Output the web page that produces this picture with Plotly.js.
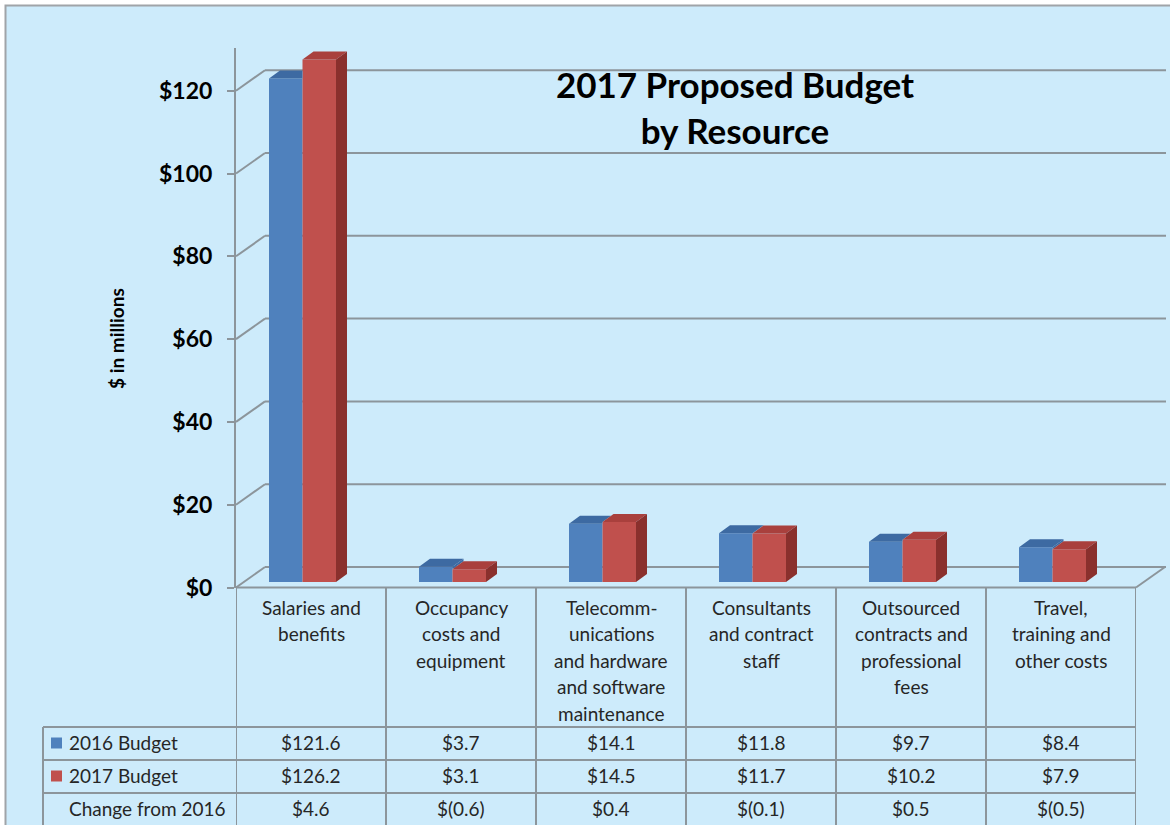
<!DOCTYPE html>
<html>
<head>
<meta charset="utf-8">
<script src="https://cdn.plot.ly/plotly-3.0.1.min.js"></script>
<style>
  html, body { margin: 0; padding: 0; background: #ffffff; }
  #chart { width: 1170px; height: 825px; }
</style>
</head>
<body>
<div id="chart"></div>
<script>
// ---------------- data ----------------
const categories = [
  'Salaries and<br>benefits',
  'Occupancy<br>costs and<br>equipment',
  'Telecomm-<br>unications<br>and hardware<br>and software<br>maintenance',
  'Consultants<br>and contract<br>staff',
  'Outsourced<br>contracts and<br>professional<br>fees',
  'Travel,<br>training and<br>other costs'
];
const seriesNames = ['2016 Budget', '2017 Budget'];
const budget2016 = [121.6, 3.7, 14.1, 11.8, 9.7, 8.4];
const budget2017 = [126.2, 3.1, 14.5, 11.7, 10.2, 7.9];
const changeLabel = 'Change from 2016';
const changeFrom2016 = [4.6, -0.6, 0.4, -0.1, 0.5, -0.5];
const yTickValues = [0, 20, 40, 60, 80, 100, 120];
const yTickLabels = ['$0', '$20', '$40', '$60', '$80', '$100', '$120'];
const chartTitle = '2017 Proposed Budget<br>by Resource';
const yTitle = '$ in millions';

// ---------------- style / geometry ----------------
const W_PX = 1170, H_PX = 825;
const BG = '#cdebfb';
const GRID = '#8c959b';
const BLUE = '#4f81bd', BLUE_TOP = '#3d6aa2';
const RED = '#c0504d', RED_TOP = '#a9403d', RED_SIDE = '#8a302d';
const FONT = 'Lato, "Open Sans", "Liberation Sans", sans-serif';
const TXT = '#262626';

const PLOT_L = 236, PLOT_R = 1136;      // category columns
const AX_TOP = 48, AX_BOT = 587.5;      // front axis (tick labels)
const BAR_ZERO = 582;                   // bar baseline (px)
const S = 4.14;                         // px per $1M
const WALL_DX = 29, WALL_DY = 20.5;     // floor / wall depth
const BAR_DX = 11 / 150, BAR_DY = 8 / S;// bar 3D depth (data units)
const BAR_OFF = -42 / 150, BAR_W = 33.5 / 150;

const px = p => p / W_PX;
const py = p => 1 - p / H_PX;

// ---------------- traces ----------------
const idx = categories.map((_, i) => i);
const traces = [];

traces.push({
  type: 'bar', name: seriesNames[0], x: idx, y: budget2016,
  offset: BAR_OFF, width: BAR_W, marker: {color: BLUE, line: {width: 0}},
  xaxis: 'x', yaxis: 'y', showlegend: false, hoverinfo: 'y+name'
});
traces.push({
  type: 'bar', name: seriesNames[1], x: idx, y: budget2017,
  offset: BAR_OFF + BAR_W, width: BAR_W, marker: {color: RED, line: {width: 0}},
  xaxis: 'x', yaxis: 'y', showlegend: false, hoverinfo: 'y+name'
});

// 3D faces, computed from the data (visible parts only)
function faceTrace(color, xs, ys) {
  return {type: 'scatter', mode: 'lines', x: xs, y: ys, fill: 'toself',
    fillcolor: color, line: {width: 0, color: color}, hoverinfo: 'skip',
    showlegend: false, xaxis: 'x', yaxis: 'y'};
}
const bTopX = [], bTopY = [], bSideX = [], bSideY = [];
const rTopX = [], rTopY = [], rSideX = [], rSideY = [];
idx.forEach(i => {
  const b = budget2016[i], r = budget2017[i];
  const x0 = i + BAR_OFF, x1 = x0 + BAR_W, x2 = x1 + BAR_W;
  if (r > b) {
    const rc = Math.min(r, b + BAR_DY);
    const xc = x1 + (b + BAR_DY - rc) * BAR_DX / BAR_DY;
    bTopX.push(x0, x0 + BAR_DX, xc, x1, x1, x0, null);
    bTopY.push(b, b + BAR_DY, b + BAR_DY, rc, b, b, null);
  } else {
    bTopX.push(x0, x0 + BAR_DX, x1 + BAR_DX, x1, x0, null);
    bTopY.push(b, b + BAR_DY, b + BAR_DY, b, b, null);
    bSideX.push(x1, x1, x1 + BAR_DX, x1 + BAR_DX, x1, null);
    bSideY.push(r, b, b + BAR_DY, r + BAR_DY, r, null);
  }
  rTopX.push(x1, x1 + BAR_DX, x2 + BAR_DX, x2, x1, null);
  rTopY.push(r, r + BAR_DY, r + BAR_DY, r, r, null);
  rSideX.push(x2, x2, x2 + BAR_DX, x2 + BAR_DX, x2, null);
  rSideY.push(0, r, r + BAR_DY, BAR_DY, 0, null);
});
traces.push(faceTrace(BLUE_TOP, bTopX, bTopY));
traces.push(faceTrace(BLUE_TOP, bSideX, bSideY));
traces.push(faceTrace(RED_TOP, rTopX, rTopY));
traces.push(faceTrace(RED_SIDE, rSideX, rSideY));

// empty trace to carry the labelled front axis
traces.push({type: 'scatter', x: [], y: [], xaxis: 'x', yaxis: 'y2',
  showlegend: false, hoverinfo: 'skip'});

// ---------------- shapes ----------------
const shapes = [];
shapes.push({type: 'rect', xref: 'paper', yref: 'paper', layer: 'below',
  x0: px(5.5), x1: 1.02, y0: -0.02, y1: py(5.5),
  fillcolor: BG, line: {color: '#a0a4a8', width: 2}});
const wallUnits = WALL_DY / S;
yTickValues.forEach(v => {
  shapes.push({type: 'line', xref: 'paper', yref: 'y2', layer: 'below',
    x0: px(PLOT_L), x1: px(PLOT_L + WALL_DX), y0: v, y1: v + wallUnits,
    line: {color: GRID, width: 2}});
  shapes.push({type: 'line', xref: 'paper', yref: 'y2', layer: 'below',
    x0: px(PLOT_L + WALL_DX), x1: px(PLOT_R + 30), y0: v + wallUnits, y1: v + wallUnits,
    line: {color: GRID, width: 2}});
});
shapes.push({type: 'line', xref: 'x', yref: 'paper', x0: -0.5, x1: categories.length - 0.5,
  y0: py(AX_BOT), y1: py(AX_BOT), line: {color: GRID, width: 2}});
shapes.push({type: 'line', xref: 'paper', yref: 'paper', x0: px(PLOT_R), x1: px(PLOT_R + WALL_DX),
  y0: py(AX_BOT), y1: py(AX_BOT - WALL_DY), line: {color: GRID, width: 2}});

const ROW_TOP = [727, 760, 793];
const TABLE_L = 43;
for (let k = 0; k <= categories.length; k++) {
  shapes.push({type: 'line', xref: 'x', yref: 'paper', x0: k - 0.5, x1: k - 0.5,
    y0: py(AX_BOT), y1: -0.02, line: {color: GRID, width: 2}});
}
ROW_TOP.forEach(t => {
  shapes.push({type: 'line', xref: 'paper', yref: 'paper', x0: px(TABLE_L), x1: px(PLOT_R),
    y0: py(t), y1: py(t), line: {color: GRID, width: 2}});
});
shapes.push({type: 'line', xref: 'paper', yref: 'paper', x0: px(TABLE_L), x1: px(TABLE_L),
  y0: py(ROW_TOP[0]), y1: -0.02, line: {color: GRID, width: 2}});
[BLUE, RED].forEach((c, k) => {
  const yc = (ROW_TOP[k] + (ROW_TOP[k + 1] || 825)) / 2 - 0.5;
  shapes.push({type: 'rect', xref: 'paper', yref: 'paper',
    x0: px(51), x1: px(62), y0: py(yc - 5.5), y1: py(yc + 5.5),
    fillcolor: c, line: {width: 0}});
});

// ---------------- annotations ----------------
const ann = [];
const LINE_H = 26.5, FIRST_LINE = 607, TSIZE = 19;
categories.forEach((c, i) => {
  c.split('<br>').forEach((ln, j) => {
    ann.push({xref: 'x', yref: 'paper', x: i, y: py(FIRST_LINE + j * LINE_H),
      xanchor: 'center', yanchor: 'middle', showarrow: false, text: ln,
      font: {family: FONT, size: TSIZE, color: TXT}});
  });
});
const fmt = v => v < 0 ? '$(' + Math.abs(v).toFixed(1) + ')' : '$' + v.toFixed(1);
const rowLabels = [seriesNames[0], seriesNames[1], changeLabel];
const rowValues = [budget2016, budget2017, changeFrom2016];
rowLabels.forEach((lab, k) => {
  const yc = (ROW_TOP[k] + (ROW_TOP[k + 1] || 826)) / 2 - 1.5;
  ann.push({xref: 'paper', yref: 'paper', x: px(67), y: py(yc), xanchor: 'left',
    yanchor: 'middle', showarrow: false, text: lab,
    font: {family: FONT, size: TSIZE, color: TXT}});
  rowValues[k].forEach((v, i) => {
    ann.push({xref: 'x', yref: 'paper', x: i, y: py(yc), xanchor: 'center',
      yanchor: 'middle', showarrow: false, text: fmt(v),
      font: {family: FONT, size: TSIZE, color: TXT}});
  });
});
// y-axis title
ann.push({xref: 'paper', yref: 'paper', x: px(116), y: py(339), xanchor: 'center',
  yanchor: 'middle', textangle: -90, showarrow: false, text: '<b>' + yTitle + '</b>',
  font: {family: FONT, size: 19, color: '#000000'}});

// ---------------- layout ----------------
const layout = {
  width: W_PX, height: H_PX,
  margin: {l: 0, r: 0, t: 0, b: 0, pad: 0},
  paper_bgcolor: '#ffffff', plot_bgcolor: 'rgba(0,0,0,0)',
  barmode: 'overlay', showlegend: false,
  title: {text: '<b>' + chartTitle + '</b>', x: px(735), xanchor: 'center',
    y: py(98), yanchor: 'top',
    font: {family: FONT, size: 35, color: '#000000'}},
  xaxis: {domain: [px(PLOT_L), px(PLOT_R)], range: [-0.5, categories.length - 0.5],
    visible: false, fixedrange: true},
  yaxis: {domain: [py(AX_BOT), py(AX_TOP)],
    range: [-(AX_BOT - BAR_ZERO) / S, (BAR_ZERO - AX_TOP) / S],
    visible: false, fixedrange: true},
  yaxis2: {overlaying: 'y', anchor: 'x', side: 'left',
    range: [0, (AX_BOT - AX_TOP) / S], tickmode: 'array',
    tickvals: yTickValues, ticktext: yTickLabels,
    showgrid: false, zeroline: false, showline: true, linecolor: GRID, linewidth: 2,
    ticks: 'outside', ticklen: 7, tickwidth: 2, tickcolor: GRID, ticklabelstandoff: 10,
    tickfont: {family: FONT, size: 23, color: '#000000', weight: 'bold'},
    fixedrange: true},
  shapes: shapes,
  annotations: ann
};

Plotly.newPlot('chart', traces, layout, {displayModeBar: false, staticPlot: true});
</script>
</body>
</html>
